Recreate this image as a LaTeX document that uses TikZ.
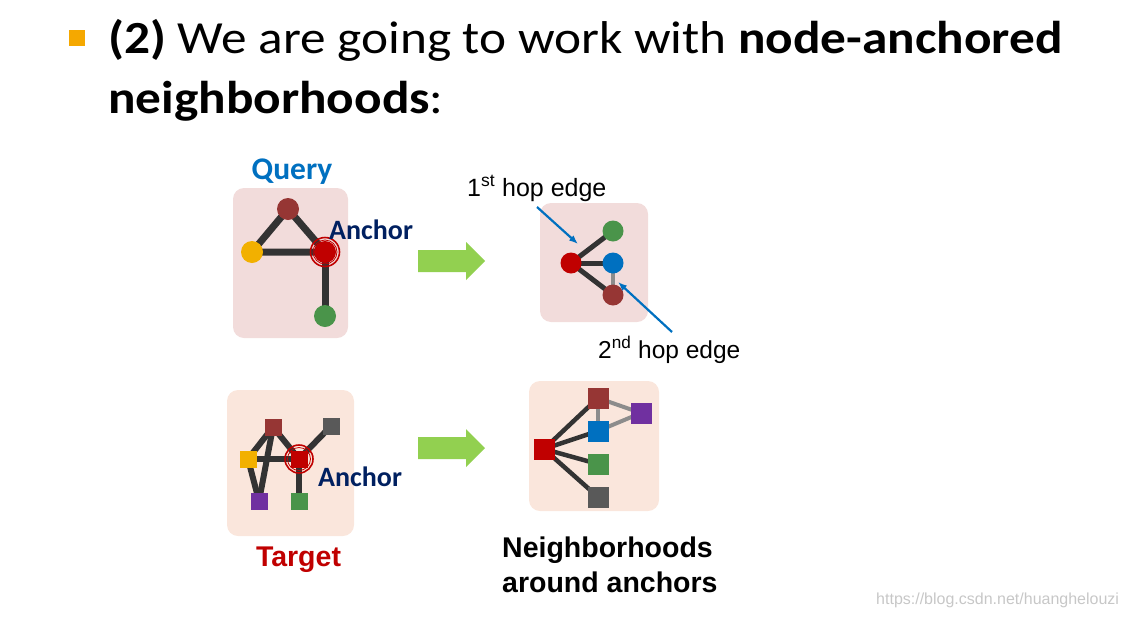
\documentclass[tikz,border=0pt]{standalone}
\usepackage{fontspec}
\setmainfont{Liberation Sans}
\newfontfamily\calib{Carlito}
\usetikzlibrary{arrows.meta}
\pgfdeclarelayer{bg}
\pgfdeclarelayer{edges}
\pgfsetlayers{bg,edges,main}
\definecolor{qbox}{HTML}{F2DCDB}
\definecolor{tbox}{HTML}{FAE6DC}
\definecolor{cbrown}{HTML}{963634}
\definecolor{cyellow}{HTML}{F2B000}
\definecolor{cred}{HTML}{C00000}
\definecolor{cgreen}{HTML}{4A944A}
\definecolor{cblue}{HTML}{0070C0}
\definecolor{cpurple}{HTML}{7030A0}
\definecolor{cgray}{HTML}{595959}
\definecolor{carrow}{HTML}{92D050}
\definecolor{cnavy}{HTML}{002060}
\definecolor{cedge}{HTML}{333333}
\definecolor{cbullet}{HTML}{F5A800}
\tikzset{
  cnode/.style={circle, inner sep=0pt, minimum size=#1},
  snode/.style={rectangle, inner sep=0pt, minimum size=#1},
  thick edge/.style={draw=cedge, line width=#1},
  hop edge/.style={draw=gray!90, line width=#1},
  callout/.style={draw=cblue, line width=2.2pt, -{Latex[length=9pt,width=7pt]}},
  ring/.style={draw=cred, line width=1.6pt},
  bigarrow/.style={fill=carrow},
  titlefont/.style={font=\calib\fontsize{46}{52}\selectfont},
}
\begin{document}
\begin{tikzpicture}[x=1pt,y=-1pt]
\useasboundingbox (0,0) rectangle (1126,616);
% title
\node[fill=cbullet, inner sep=0pt, minimum size=16pt] (bullet) at (77,38) {};
\node[anchor=base west, inner sep=0pt, titlefont] (t1) at (108,53) {\scalebox{1.115}[1]{\textbf{(2)} We are going to work with \textbf{node-anchored}}};
\node[anchor=base west, inner sep=0pt, titlefont] (t2) at (108,113) {\scalebox{1.115}[1]{\textbf{neighborhoods}:}};

% ---------- panels ----------
\begin{pgfonlayer}{bg}
\fill[qbox, rounded corners=11pt] (233,188) rectangle (348,338);
\fill[tbox, rounded corners=11pt] (227,390) rectangle (354,536);
\fill[qbox, rounded corners=11pt] (540,203) rectangle (648,322);
\fill[tbox, rounded corners=11pt] (529,381) rectangle (659,511);
\end{pgfonlayer}

% ---------- Query ----------
\node[anchor=base, inner sep=0pt, text=cblue, font=\calib\bfseries\fontsize{31.5}{36}\selectfont] (query) at (292,179) {Query};
\node[cnode=22pt, fill=cbrown] (q1) at (288,209) {};
\node[cnode=22pt, fill=cyellow] (q2) at (252,252) {};
\node[cnode=22pt, fill=cred] (q3) at (325,252) {};
\node[cnode=22pt, fill=cgreen] (q4) at (325,316) {};
\draw[ring] (q3) circle (14.5pt);
\draw[cred, line width=0.8pt] (q3) circle (12pt);
\begin{pgfonlayer}{edges}
\draw[thick edge=7pt] (q1.center) -- (q2.center) -- (q3.center) -- (q1.center);
\draw[thick edge=7pt] (q3.center) -- (q4.center);
\end{pgfonlayer}
\node[anchor=base west, inner sep=0pt, text=cnavy, font=\calib\bfseries\fontsize{28}{34}\selectfont] (qa) at (329,239) {Anchor};

% ---------- Target ----------
\node[snode=17pt, fill=cbrown] (g1) at (273,427) {};
\node[snode=17pt, fill=cgray] (g2) at (331,426) {};
\node[snode=17pt, fill=cyellow] (g3) at (248,459) {};
\node[snode=17pt, fill=cred] (g4) at (299,459) {};
\node[snode=17pt, fill=cpurple] (g5) at (259,501) {};
\node[snode=17pt, fill=cgreen] (g6) at (299,501) {};
\draw[cred, line width=1.6pt] (g4) circle (14pt);
\draw[cred, line width=0.8pt] (g4) circle (11.5pt);
\begin{pgfonlayer}{edges}
\draw[thick edge=6pt] (g1.center) -- (g3.center);
\draw[thick edge=6pt] (g1.center) -- (g5.center);
\draw[thick edge=6pt] (g1.center) -- (g4.center);
\draw[thick edge=6pt] (g3.center) -- (g4.center);
\draw[thick edge=6pt] (g3.center) -- (g5.center);
\draw[thick edge=6pt] (g4.center) -- (g2.center);
\draw[thick edge=6pt] (g4.center) -- (g6.center);
\end{pgfonlayer}
\node[anchor=base west, inner sep=0pt, text=cnavy, font=\calib\bfseries\fontsize{28}{34}\selectfont] (ta) at (318,486) {Anchor};
\node[anchor=base, inner sep=0pt, text=cred, font=\bfseries\fontsize{28.5}{34}\selectfont] (target) at (298.5,566) {Target};

% ---------- big arrows ----------
\fill[bigarrow] (418,250) -- (466,250) -- (466,242) -- (485,261) -- (466,280) -- (466,272) -- (418,272) -- cycle;
\fill[bigarrow] (418,437) -- (466,437) -- (466,429) -- (485,448) -- (466,467) -- (466,459) -- (418,459) -- cycle;

% ---------- Query neighbourhood ----------
\node[cnode=21pt, fill=cred] (n1) at (571,263) {};
\node[cnode=21pt, fill=cgreen] (n2) at (613,231) {};
\node[cnode=21pt, fill=cblue] (n3) at (613,263) {};
\node[cnode=21pt, fill=cbrown] (n4) at (613,295) {};
\begin{pgfonlayer}{edges}
\draw[thick edge=5pt] (n1.center) -- (n2.center);
\draw[thick edge=5pt] (n1.center) -- (n3.center);
\draw[thick edge=5pt] (n1.center) -- (n4.center);
\draw[hop edge=4pt] (n3.center) -- (n4.center);
\end{pgfonlayer}
\node[anchor=base west, inner sep=0pt, font=\fontsize{25}{28}\selectfont] (h1) at (467,196) {1\textsuperscript{st} hop edge};
\node[anchor=base west, inner sep=0pt, font=\fontsize{24.5}{28}\selectfont] (h2) at (598,358) {2\textsuperscript{nd} hop edge};
\coordinate (a1s) at (537,207);
\coordinate (a1e) at (578,244);
\coordinate (a2s) at (672,332);
\coordinate (a2e) at (618,282);
\draw[callout] (a1s) -- (a1e);
\draw[callout] (a2s) -- (a2e);

% ---------- Target neighbourhood ----------
\node[snode=21pt, fill=cred] (m1) at (544,449) {};
\node[snode=21pt, fill=cbrown] (m2) at (598,398) {};
\node[snode=21pt, fill=cblue] (m3) at (598,431) {};
\node[snode=21pt, fill=cgreen] (m4) at (598,464) {};
\node[snode=21pt, fill=cgray] (m5) at (598,497) {};
\node[snode=21pt, fill=cpurple] (m6) at (641,413) {};
\begin{pgfonlayer}{edges}
\draw[thick edge=4.5pt] (m1.center) -- (m2.center);
\draw[thick edge=4.5pt] (m1.center) -- (m3.center);
\draw[thick edge=4.5pt] (m1.center) -- (m4.center);
\draw[thick edge=4.5pt] (m1.center) -- (m5.center);
\draw[hop edge=4pt] (m2.center) -- (m3.center);
\draw[hop edge=4pt] (m2.center) -- (m6.center);
\draw[hop edge=4pt] (m3.center) -- (m6.center);
\end{pgfonlayer}
\node[anchor=base west, inner sep=0pt, align=left, font=\bfseries\fontsize{28.5}{35}\selectfont] (cap) at (502,592) {Neighborhoods\\around anchors};

% watermark
\node[anchor=base west, inner sep=0pt, text=black!22, font=\fontsize{16}{19}\selectfont] (wm) at (876,604) {https://blog.csdn.net/huanghelouzi};
\end{tikzpicture}
\end{document}
